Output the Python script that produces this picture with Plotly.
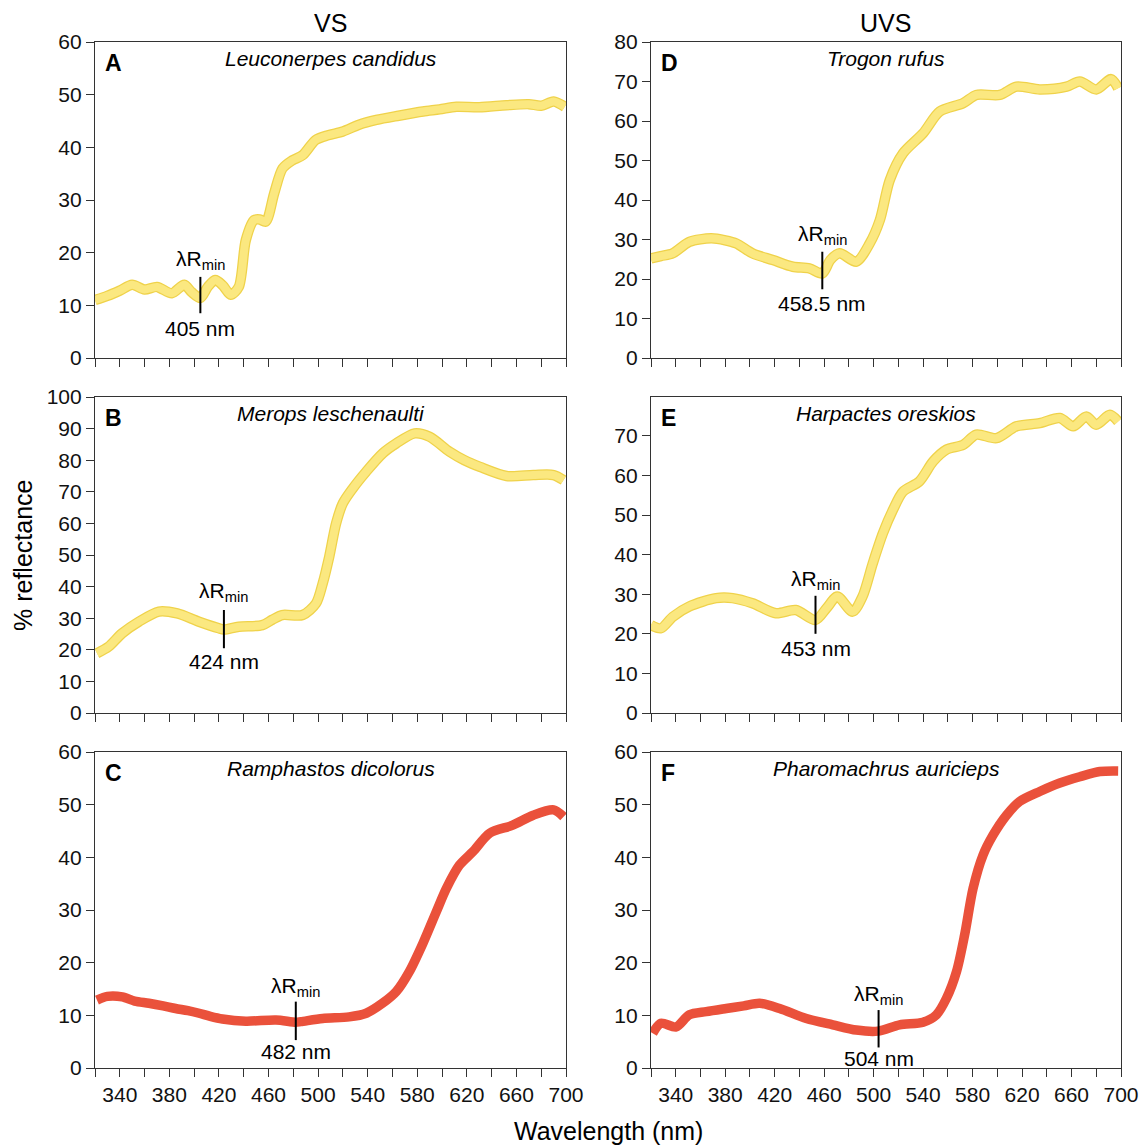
import plotly.graph_objects as go
from plotly.subplots import make_subplots

# ---------------- data ----------------
wl_A = [320, 330, 340, 350, 360, 370, 382, 392, 398, 405, 411, 417, 423, 429.5, 436, 441.7, 448.4, 453, 457.8,
        464.6, 471.3, 479, 487.5, 498, 508, 520, 533, 547, 565, 584.6, 598, 611.6, 630, 652, 670, 680, 690, 699]
r_A = [11.0, 11.8, 12.8, 13.9, 13.0, 13.5, 12.3, 13.9, 12.5, 11.4, 13.5, 14.8, 13.8, 12.0, 13.5, 22.4, 26.2, 26.3, 25.9,
       31.3, 36.0, 37.5, 38.5, 41.4, 42.3, 43.0, 44.3, 45.2, 46.0, 46.8, 47.2, 47.7, 47.6, 48.0, 48.2, 47.9, 48.7, 47.7]

wl_B = [321.6, 331, 341.8, 355.4, 371.5, 386.3, 403.9, 420, 424, 436, 455, 463, 471, 487.5, 498.3, 503.7, 509, 514.5,
        520, 528, 538.8, 552.2, 563, 577.9, 590, 606, 618, 630.5, 652, 673.6, 690, 698]
r_B = [18.9, 21.0, 25.2, 28.9, 32.1, 31.5, 28.9, 26.8, 26.4, 27.3, 27.8, 29.5, 31.0, 31.0, 34.7, 41.0, 49.5, 60.0,
       66.4, 71.1, 76.4, 82.2, 85.3, 88.5, 87.4, 82.7, 80.0, 77.9, 75.0, 75.3, 75.3, 73.7]

wl_C = [321.6, 330, 342, 352, 363.5, 375, 385, 395, 404, 413, 422.8, 441.7, 466, 482, 486, 503.7, 525, 538.8, 552,
        563, 573.6, 584.6, 595.4, 603.5, 614, 625, 638.5, 657, 673.6, 690, 698]
r_C = [12.9, 13.6, 13.5, 12.7, 12.3, 11.8, 11.3, 10.9, 10.4, 9.8, 9.3, 8.9, 9.1, 8.7, 8.8, 9.4, 9.7, 10.4, 12.3,
       14.5, 18.3, 23.7, 29.7, 34.1, 38.5, 41.1, 44.6, 46.1, 48.0, 49.0, 47.7]

wl_D = [320, 328, 337.6, 351, 368.7, 380, 389, 402, 418.5, 434.7, 448, 458.5, 465, 472.5, 486, 496.8, 505, 513,
        523.7, 540, 553.4, 572.3, 583, 602, 615.5, 634.3, 656, 666.7, 680, 692, 697.7]
r_D = [25.2, 25.8, 26.5, 29.4, 30.3, 29.8, 29.0, 26.5, 24.8, 23.1, 22.7, 21.4, 24.8, 26.5, 24.4, 29.0, 34.9, 45.0,
       51.8, 56.9, 62.4, 64.5, 66.6, 66.6, 68.7, 68.0, 68.7, 70.0, 68.0, 70.6, 68.3]

wl_E = [320, 328, 337.6, 351, 372.6, 386, 402, 421, 437, 453, 462, 470.6, 483, 491, 499.3, 507.5, 515.6, 523.7, 537,
        548, 558.8, 572.3, 583, 599.3, 615.5, 634.3, 650.5, 661.3, 672, 680, 691, 697.7]
r_E = [22.2, 21.4, 24.3, 26.9, 29.0, 29.0, 27.7, 25.2, 26.0, 23.5, 26.5, 29.4, 25.6, 29.4, 37.8, 45.4, 51.3, 55.9, 58.5,
       63.5, 66.5, 67.7, 70.3, 69.4, 72.4, 73.2, 74.5, 72.4, 74.9, 72.8, 75.3, 73.6]

wl_F = [321.4, 328, 340.3, 351, 364.6, 380.8, 395, 407.8, 424, 445.6, 467, 486, 503.5, 521, 540, 550.7, 558.8, 567,
        573.6, 580.4, 588.4, 596.5, 607.4, 618, 634.3, 650.5, 666.7, 682.9, 697.7]
r_F = [6.6, 8.5, 7.8, 10.1, 10.7, 11.3, 11.8, 12.3, 11.3, 9.4, 8.2, 7.2, 7.0, 8.2, 8.7, 10.1, 13.2, 18.3,
       25.3, 34.1, 40.4, 44.2, 48.0, 50.6, 52.5, 54.1, 55.3, 56.3, 56.4]

FONT = "Liberation Sans, Arial, Helvetica, sans-serif"

panels = [
    dict(letter="A", name="Leuconerpes candidus", wl=wl_A, r=r_A, kind="yellow", yr=60, ytop=60, row=1, col=1,
         lmin=405, lab="405 nm", seg=(8.5, 15.4), ylab=18.6, ynm=5.6),
    dict(letter="D", name="Trogon rufus", wl=wl_D, r=r_D, kind="yellow", yr=80, ytop=80, row=1, col=2,
         lmin=458.5, lab="458.5 nm", seg=(17.4, 26.9), ylab=31.1, ynm=13.8),
    dict(letter="B", name="Merops leschenaulti", wl=wl_B, r=r_B, kind="yellow", yr=100, ytop=100, row=2, col=1,
         lmin=424, lab="424 nm", seg=(20.5, 32.6), ylab=38.4, ynm=16.2),
    dict(letter="E", name="Harpactes oreskios", wl=wl_E, r=r_E, kind="yellow", yr=79.8, ytop=70, row=2, col=2,
         lmin=453, lab="453 nm", seg=(20.0, 29.6), ylab=33.6, ynm=16.3),
    dict(letter="C", name="Ramphastos dicolorus", wl=wl_C, r=r_C, kind="red", yr=60, ytop=60, row=3, col=1,
         lmin=482, lab="482 nm", seg=(5.3, 12.6), ylab=15.4, ynm=3.1),
    dict(letter="F", name="Pharomachrus auricieps", wl=wl_F, r=r_F, kind="red", yr=60, ytop=60, row=3, col=2,
         lmin=504, lab="504 nm", seg=(3.9, 11.0), ylab=13.9, ynm=1.8),
]

W, H = 1146, 1145
xdom = {1: (95 / W, 566 / W), 2: (651 / W, 1121 / W)}
ydom = {1: (1 - 358 / H, 1 - 42 / H), 2: (1 - 713 / H, 1 - 397 / H), 3: (1 - 1068 / H, 1 - 752 / H)}

fig = make_subplots(rows=3, cols=2)

for i, p in enumerate(panels):
    idx = (p["row"] - 1) * 2 + p["col"]
    sfx = "" if idx == 1 else str(idx)
    if p["kind"] == "yellow":
        fig.add_trace(go.Scatter(x=p["wl"], y=p["r"], mode="lines",
                                 line=dict(color="#EFD24A", width=10.5, shape="spline", smoothing=0.8),
                                 hoverinfo="skip", showlegend=False), row=p["row"], col=p["col"])
        fig.add_trace(go.Scatter(x=p["wl"], y=p["r"], mode="lines",
                                 line=dict(color="#FBE880", width=8, shape="spline", smoothing=0.8),
                                 showlegend=False), row=p["row"], col=p["col"])
    else:
        fig.add_trace(go.Scatter(x=p["wl"], y=p["r"], mode="lines",
                                 line=dict(color="#EA513B", width=9.5, shape="spline", smoothing=0.8),
                                 showlegend=False), row=p["row"], col=p["col"])

    fig.update_xaxes(row=p["row"], col=p["col"], domain=xdom[p["col"]], range=[320, 700], automargin=False,
                     tickmode="linear", tick0=340, dtick=40,
                     showticklabels=(p["row"] == 3),
                     ticks="outside", ticklen=8, tickwidth=1, tickcolor="#333",
                     minor=dict(tickmode="linear", tick0=320, dtick=20, ticks="outside", ticklen=8,
                                tickwidth=1, tickcolor="#333", showgrid=False),
                     showline=True, linecolor="#333", linewidth=1.2, mirror=True,
                     showgrid=False, zeroline=False,
                     tickfont=dict(family=FONT, size=21, color="#111"))
    fig.update_yaxes(row=p["row"], col=p["col"], domain=ydom[p["row"]], range=[0, p["yr"]], automargin=False,
                     tickmode="array", tickvals=list(range(0, p["ytop"] + 1, 10)),
                     ticks="outside", ticklen=8, tickwidth=1, tickcolor="#333",
                     showline=True, linecolor="#333", linewidth=1.2, mirror=True,
                     showgrid=False, zeroline=False,
                     tickfont=dict(family=FONT, size=21, color="#111"))

    xr = "x" + sfx
    yr = "y" + sfx
    # panel letter and species name
    fig.add_annotation(xref=xr + " domain", yref=yr + " domain", x=0.018, y=0.98,
                       xanchor="left", yanchor="top", text="<b>%s</b>" % p["letter"], showarrow=False,
                       font=dict(family=FONT, size=23, color="#000"))
    fig.add_annotation(xref=xr + " domain", yref=yr + " domain", x=0.5, y=0.99,
                       xanchor="center", yanchor="top", text="<i>%s</i>" % p["name"], showarrow=False,
                       font=dict(family=FONT, size=21, color="#000"))
    # lambda R min marker
    fig.add_shape(type="line", xref=xr, yref=yr, x0=p["lmin"], x1=p["lmin"], y0=p["seg"][0], y1=p["seg"][1],
                  line=dict(color="#000", width=2))
    fig.add_annotation(xref=xr, yref=yr, x=p["lmin"], y=p["ylab"], text="λR<sub>min</sub>", showarrow=False,
                       xanchor="center", yanchor="middle", font=dict(family=FONT, size=21, color="#000"))
    fig.add_annotation(xref=xr, yref=yr, x=p["lmin"], y=p["ynm"], text=p["lab"], showarrow=False,
                       xanchor="center", yanchor="middle", font=dict(family=FONT, size=21, color="#000"))

# column headers and axis titles
fig.add_annotation(xref="paper", yref="paper", x=330.5 / W, y=1 - 23 / H, text="VS", showarrow=False,
                   xanchor="center", yanchor="middle", font=dict(family=FONT, size=25, color="#000"))
fig.add_annotation(xref="paper", yref="paper", x=886 / W, y=1 - 23 / H, text="UVS", showarrow=False,
                   xanchor="center", yanchor="middle", font=dict(family=FONT, size=25, color="#000"))
fig.add_annotation(xref="paper", yref="paper", x=23 / W, y=1 - 556 / H, text="% reflectance", showarrow=False,
                   textangle=-90, xanchor="center", yanchor="middle", font=dict(family=FONT, size=25, color="#000"))
fig.add_annotation(xref="paper", yref="paper", x=608 / W, y=1 - 1131 / H, text="Wavelength (nm)", showarrow=False,
                   xanchor="center", yanchor="middle", font=dict(family=FONT, size=25, color="#000"))

fig.update_layout(width=W, height=H, margin=dict(l=0, r=0, t=0, b=0, autoexpand=False),
                  paper_bgcolor="white", plot_bgcolor="white", showlegend=False)

fig.write_html("out.html", config={"displayModeBar": False},
               post_script="document.body.style.margin='0px';document.body.style.padding='0px';")
